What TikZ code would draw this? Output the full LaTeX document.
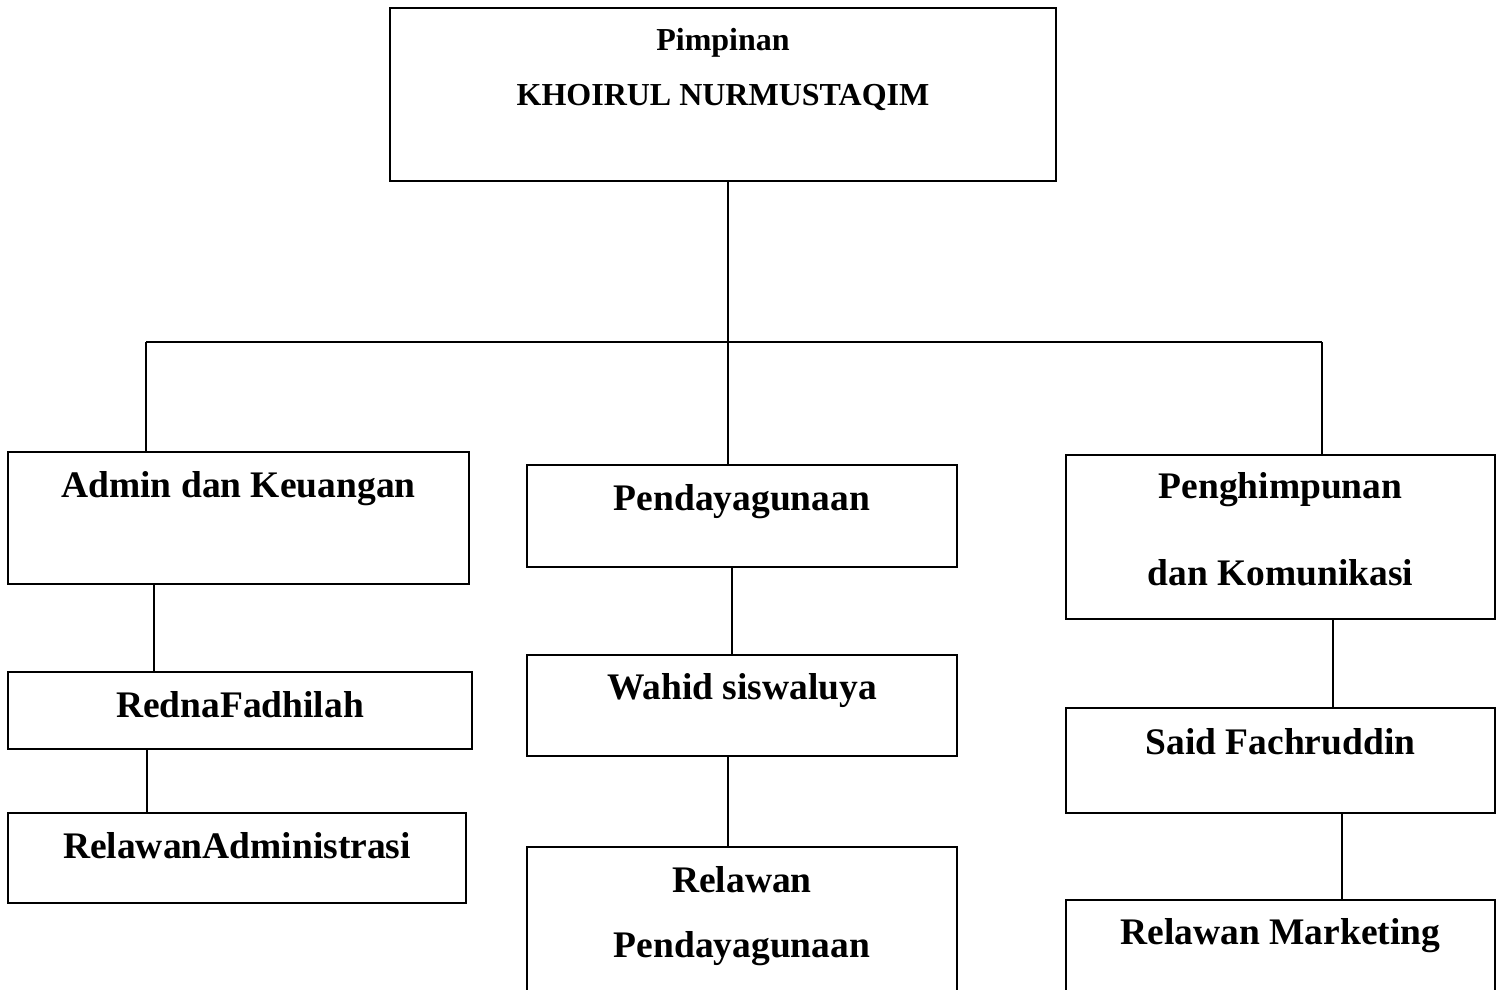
\documentclass[tikz,border=0pt]{standalone}
\usepackage{fontspec}
\setmainfont{Liberation Serif}
\usetikzlibrary
  {
    positioning,              % place nodes relative to other nodes
  }

\begin{document}
\begin{tikzpicture}
    [
      x=1pt,
      y=-1pt,
      box/.style=
        {
          rectangle,
          draw=black,
          line width=2pt,
          inner sep=0pt,
          outer sep=0pt,
          align=center,
          font=\bfseries\fontsize{37.5}{45}\selectfont,
        },
      head/.style=
        {
          box,
          font=\bfseries\fontsize{32}{38}\selectfont,
        },
      link/.style={line width=1.8pt},
    ]
    \useasboundingbox (0,0) rectangle (1500,990);
    \clip (0,0) rectangle (1500,990);

    % pimpinan
    \node[head, anchor=north west, minimum width=666pt,
          text height=98pt, text depth=75pt] (pimpinan) at (390,8)
      {Pimpinan\\[17pt]KHOIRUL NURMUSTAQIM};

    % bidang
    \node[box, anchor=north west, minimum width=461pt,
          text height=45pt, text depth=87pt] (admin) at (8,452)
      {Admin dan Keuangan};
    \node[box, anchor=north west, minimum width=430pt,
          text height=45pt, text depth=57pt] (pendaya) at (527,465)
      {Pendayagunaan};
    \node[box, anchor=north west, minimum width=429pt,
          text height=130pt, text depth=34pt] (peng) at (1066,455)
      {Penghimpunan\\[42pt]dan Komunikasi};

    % admin dan keuangan
    \node[box, minimum width=464pt, text height=45pt, text depth=32pt]
      (redna) [below=88pt of admin.south west, anchor=north west]
      {RednaFadhilah};
    \node[box, minimum width=458pt, text height=45pt, text depth=45pt]
      (reladmin) [below=64pt of redna.south west, anchor=north west]
      {RelawanAdministrasi};

    % pendayagunaan
    \node[box, minimum width=430pt, text height=44pt, text depth=57pt]
      (wahid) [below=88pt of pendaya.south west, anchor=north west]
      {Wahid siswaluya};
    \node[box, minimum width=430pt, text height=110pt, text depth=65pt]
      (relpend) [below=91pt of wahid.south west, anchor=north west]
      {Relawan\\[20pt]Pendayagunaan};

    % penghimpunan dan komunikasi
    \node[box, minimum width=429pt, text height=46pt, text depth=59pt]
      (said) [below=89pt of peng.south west, anchor=north west]
      {Said Fachruddin};
    \node[box, minimum width=429pt, text height=44pt, text depth=120pt]
      (market) [below=87pt of said.south west, anchor=north west]
      {Relawan Marketing};

    % garis
    \coordinate (hub)  at (728,342);
    \coordinate (hubL) at (146,342);
    \coordinate (hubR) at (1322,342);
    \draw[link] (pimpinan.south -| hub) -- (hub);
    \draw[link] (hubL) -- (hubR);
    \draw[link] (hubL) -- (hubL |- admin.north);
    \draw[link] (hub) -- (hub |- pendaya.north);
    \draw[link] (hubR) -- (hubR |- peng.north);

    \draw[link] (admin.south -| 154,0) -- (redna.north -| 154,0);
    \draw[link] (redna.south -| 147,0) -- (reladmin.north -| 147,0);
    \draw[link] (pendaya.south -| 732,0) -- (wahid.north -| 732,0);
    \draw[link] (wahid.south -| 728,0) -- (relpend.north -| 728,0);
    \draw[link] (peng.south -| 1333,0) -- (said.north -| 1333,0);
    \draw[link] (said.south -| 1342,0) -- (market.north -| 1342,0);
\end{tikzpicture}
\end{document}
